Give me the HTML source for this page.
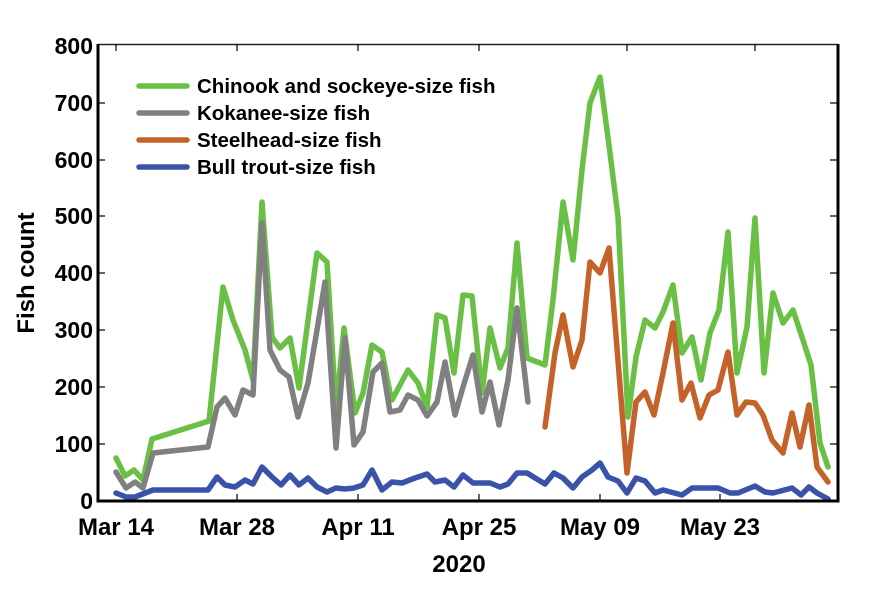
<!DOCTYPE html>
<html><head><style>body{margin:0;background:#fff}svg text{font-family:"Liberation Sans",sans-serif;font-weight:bold}</style></head>
<body>
<svg width="881" height="585" viewBox="0 0 881 585" xmlns="http://www.w3.org/2000/svg">
<rect width="881" height="585" fill="#fff"/>
<g fill="none" stroke-width="5.5" stroke-linejoin="round" stroke-linecap="round">
<polyline stroke="#6abf45" points="116,458 125,476 134,470 143,480 152,439 209,421 223,287 233,320 245,350 253,380 262,202 272,337 280,348 290,338 299,388 317,253 327,262 336,410 344,328 355,413 363,393 372,345 382,352 390,393 392,400 408,370 418,383 427,407 437,315 445,318 454,373 463,295 472,296 482,393 490,328 500,368 508,348 517,243 527,358 545,365 553,300 563,202 573,260 582,170 590,103 600,77 610,153 618,217 628,417 636,357 645,320 655,328 663,312 673,285 682,353 692,337 701,380 710,333 719,310 728,232 737,373 747,327 755,218 764,373 773,293 783,323 793,310 802,337 811,365 820,443 828,467"/>
<polyline stroke="#808080" points="116,472 126,488 135,482 143,488 153,453 208,447 217,407 225,398 235,415 243,390 253,395 262,223 270,350 280,370 289,377 298,417 308,383 317,330 325,282 336,448 345,338 354,445 363,432 373,372 382,363 390,412 400,410 408,395 418,400 427,416 437,402 445,362 455,415 463,387 473,355 482,412 490,382 499,425 508,380 517,308 528,402"/>
<polyline stroke="#c5622a" points="545,427 555,353 563,315 573,367 582,340 590,262 600,273 609,248 627,473 636,402 645,392 654,415 663,373 673,323 682,400 691,383 700,418 709,395 718,390 728,352 737,415 746,402 755,403 763,415 772,440 783,453 792,413 800,447 809,405 817,467 828,482"/>
<polyline stroke="#3a52a8" points="116,493 126,497 135,497 153,490 208,490 217,477 225,485 235,487 245,480 253,484 262,467 272,477 281,485 290,475 299,485 308,478 317,487 327,492 336,488 345,489 354,488 363,485 372,470 382,490 392,482 402,483 415,478 427,474 435,482 445,480 454,487 463,475 473,483 490,483 500,487 508,484 517,473 527,473 545,484 554,473 563,478 573,488 582,477 592,470 600,463 608,477 618,481 627,493 636,478 645,481 655,493 663,490 682,495 692,488 718,488 730,493 738,493 755,486 765,492 773,493 792,488 801,495 809,487 817,493 828,499"/>
</g>
<line x1="98" y1="44.5" x2="838" y2="44.5" stroke="#222" stroke-width="1.5"/>
<g stroke="#000" stroke-width="3" fill="none"><polyline points="98,44 98,501 838,501 838,44"/></g>
<g stroke="#000" stroke-width="1.2">
<line x1="98" y1="444" x2="105" y2="444"/><line x1="98" y1="387" x2="105" y2="387"/><line x1="98" y1="330" x2="105" y2="330"/><line x1="98" y1="273" x2="105" y2="273"/><line x1="98" y1="216" x2="105" y2="216"/><line x1="98" y1="160" x2="105" y2="160"/><line x1="98" y1="103" x2="105" y2="103"/>
<line x1="830" y1="444" x2="837" y2="444"/><line x1="830" y1="387" x2="837" y2="387"/><line x1="830" y1="330" x2="837" y2="330"/><line x1="830" y1="273" x2="837" y2="273"/><line x1="830" y1="216" x2="837" y2="216"/><line x1="830" y1="160" x2="837" y2="160"/><line x1="830" y1="103" x2="837" y2="103"/>
<line x1="237" y1="501" x2="237" y2="494"/><line x1="358" y1="501" x2="358" y2="494"/><line x1="479" y1="501" x2="479" y2="494"/><line x1="600" y1="501" x2="600" y2="494"/><line x1="720" y1="501" x2="720" y2="494"/>
<line x1="116" y1="44" x2="116" y2="51"/><line x1="237" y1="44" x2="237" y2="51"/><line x1="358" y1="44" x2="358" y2="51"/><line x1="479" y1="44" x2="479" y2="51"/><line x1="627" y1="44" x2="627" y2="51"/><line x1="755" y1="44" x2="755" y2="51"/>
</g>
<g font-size="23" text-anchor="end">
<text x="93" y="509">0</text><text x="93" y="452">100</text><text x="93" y="395">200</text><text x="93" y="338">300</text><text x="93" y="281">400</text><text x="93" y="224">500</text><text x="93" y="168">600</text><text x="93" y="111">700</text><text x="93" y="54">800</text>
</g>
<g font-size="24" text-anchor="middle">
<text x="116" y="535">Mar 14</text><text x="237" y="535">Mar 28</text><text x="358" y="535">Apr 11</text><text x="479" y="535">Apr 25</text><text x="600" y="535">May 09</text><text x="720" y="535">May 23</text>
<text x="459" y="572">2020</text>
<text transform="translate(34,273) rotate(-90)">Fish count</text>
</g>
<g stroke-width="5.5" stroke-linecap="round">
<line x1="139" y1="86" x2="187" y2="86" stroke="#6abf45"/>
<line x1="139" y1="113" x2="187" y2="113" stroke="#808080"/>
<line x1="139" y1="140" x2="187" y2="140" stroke="#c5622a"/>
<line x1="139" y1="167" x2="187" y2="167" stroke="#3a52a8"/>
</g>
<g font-size="20.5">
<text x="197" y="93">Chinook and sockeye-size fish</text>
<text x="197" y="120">Kokanee-size fish</text>
<text x="197" y="147">Steelhead-size fish</text>
<text x="197" y="174">Bull trout-size fish</text>
</g>
</svg>
</body></html>
